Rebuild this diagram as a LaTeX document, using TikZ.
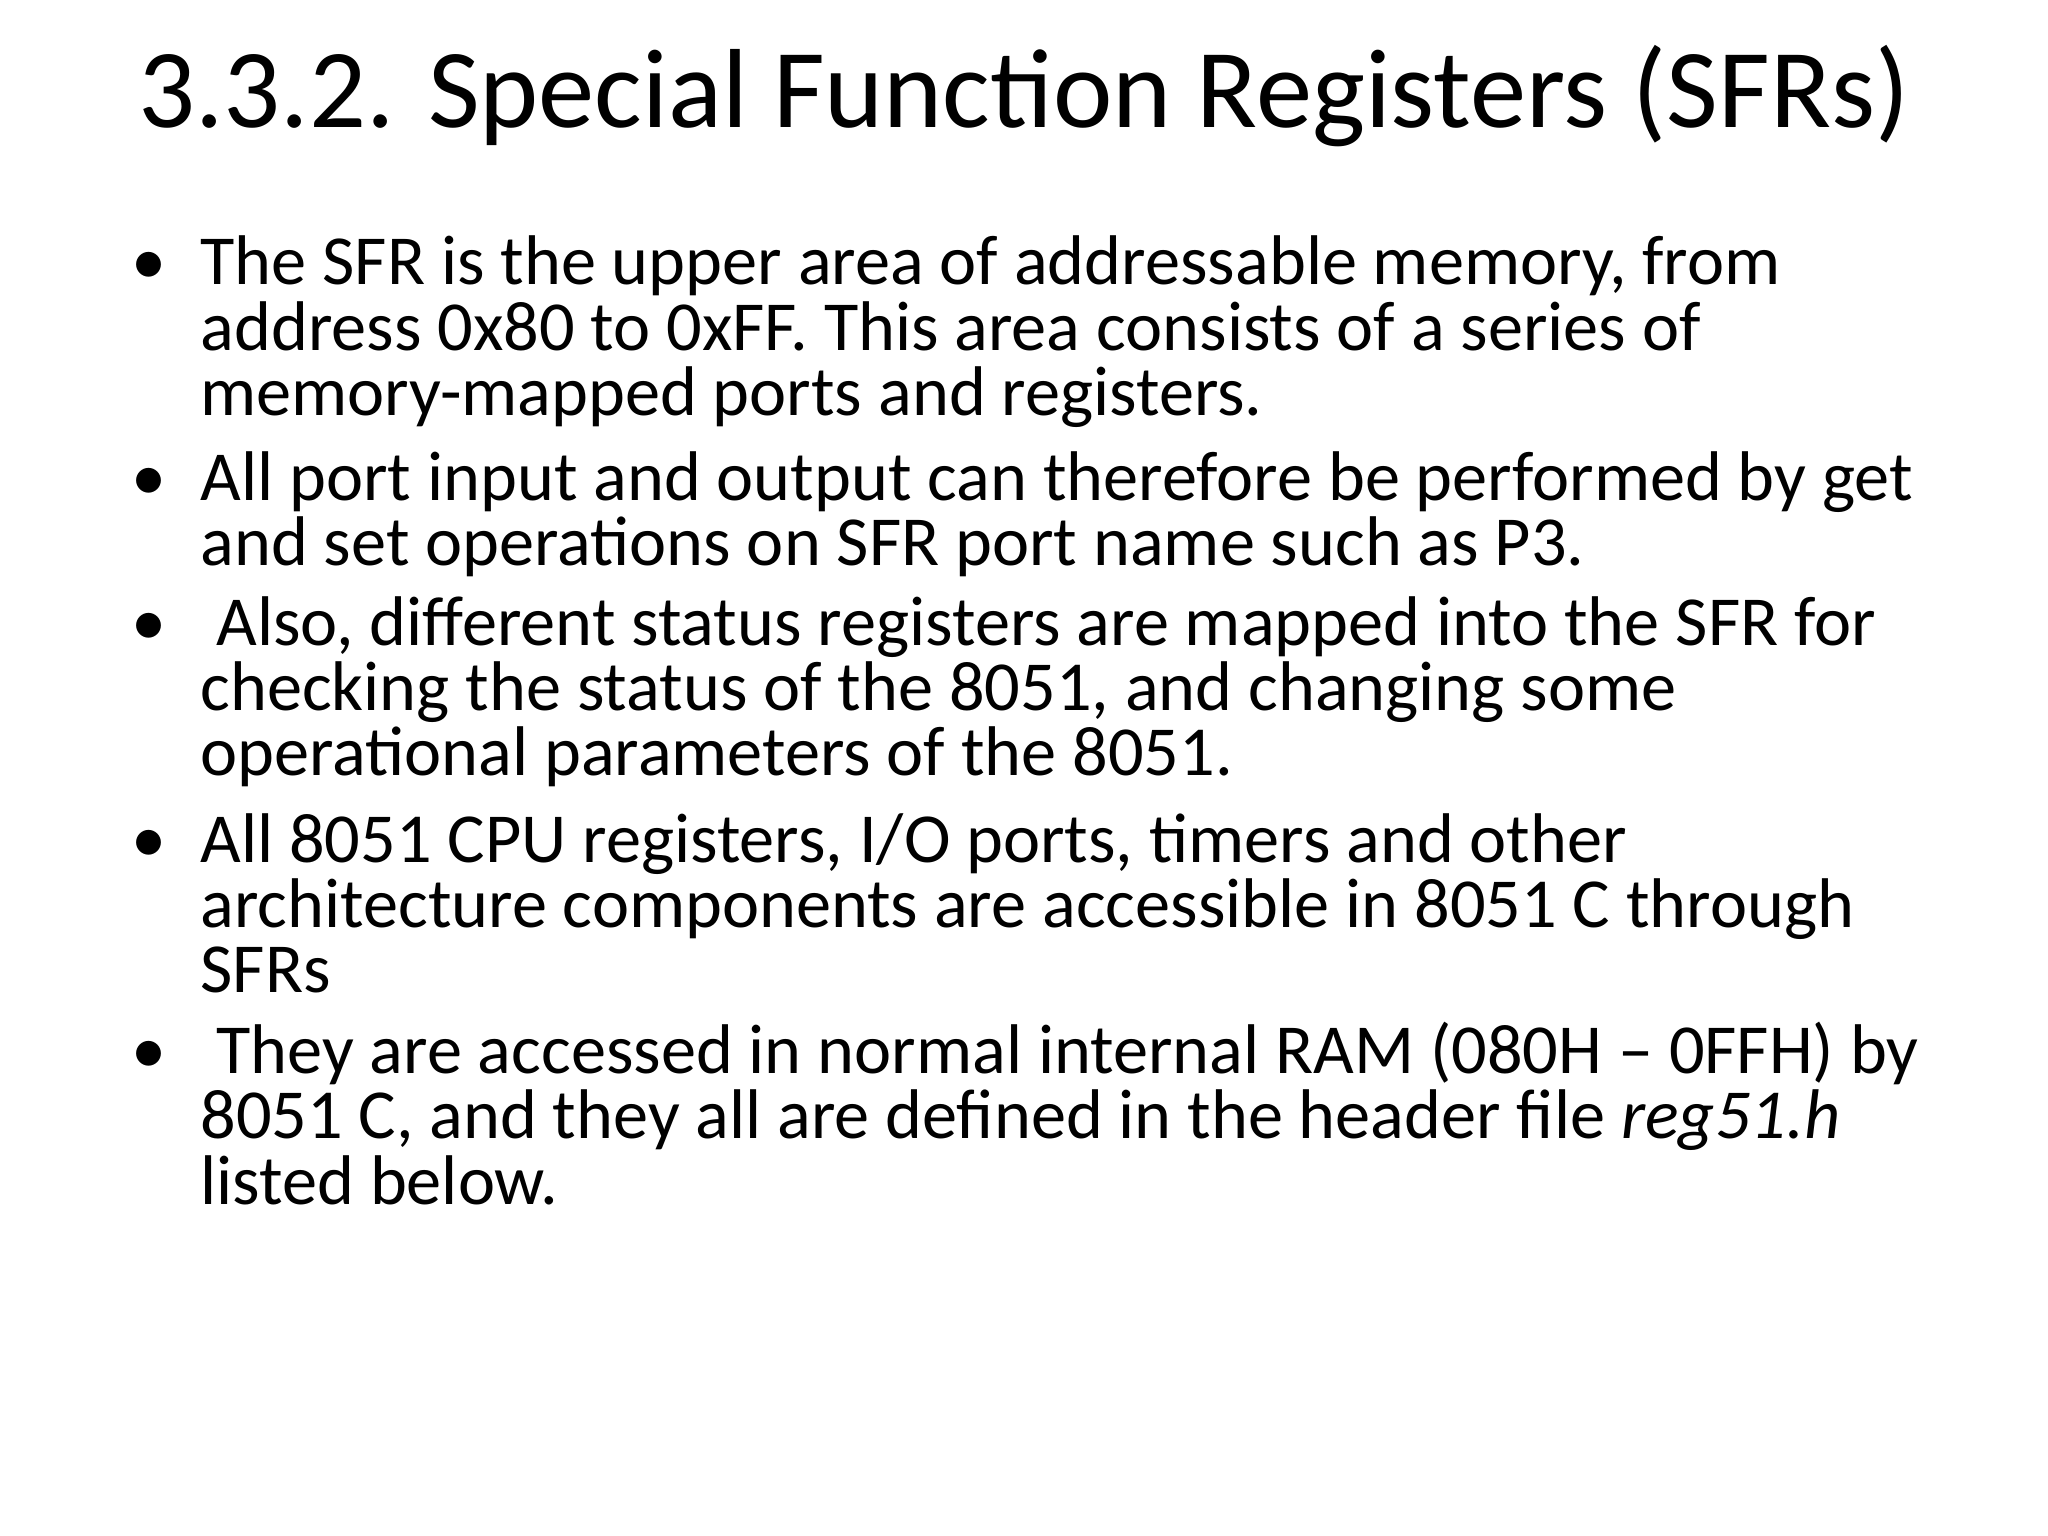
\documentclass[tikz,border=0pt]{standalone}
\usepackage{fontspec}
\setmainfont{Carlito}
\begin{document}
\begin{tikzpicture}[x=0.01306cm,y=-0.01306cm,
  ln/.style={anchor=base west,inner sep=0pt,font=\fontsize{20}{24}\selectfont},
  bl/.style={anchor=base west,inner sep=0pt,font=\fontsize{20}{24}\selectfont}]
\useasboundingbox[fill=white] (0,0) rectangle (1568,1176);
\node[anchor=base,inner sep=0pt,font=\fontsize{32}{38}\selectfont] (title) at (784,98) {3.3.2. Special Function Registers (SFRs)};
\foreach \y in {218,383,494,660,822}{\node[bl] (b\y) at (100,\y) {\textbullet};}
\node[ln] (l1) at (153,218) {The SFR is the upper area of addressable memory, from};
\node[ln] (l2) at (153,268) {address 0x80 to 0xFF. This area consists of a series of};
\node[ln] (l3) at (153,318) {memory-mapped ports and registers.};
\node[ln] (l4) at (153,383) {All port input and output can therefore be performed by get};
\node[ln] (l5) at (153,433) {and set operations on SFR port name such as P3.};
\node[ln] (l6) at (153,494) {\ Also, different status registers are mapped into the SFR for};
\node[ln] (l7) at (153,544) {checking the status of the 8051, and changing some};
\node[ln] (l8) at (153,594) {operational parameters of the 8051.};
\node[ln] (l9) at (153,660) {All 8051 CPU registers, I/O ports, timers and other};
\node[ln] (l10) at (153,710) {architecture components are accessible in 8051 C through};
\node[ln] (l11) at (153,760) {SFRs};
\node[ln] (l12) at (153,822) {\ They are accessed in normal internal RAM (080H – 0FFH) by};
\node[ln] (l13) at (153,872) {8051 C, and they all are defined in the header file \textit{reg51.h}};
\node[ln] (l14) at (153,922) {listed below.};
\end{tikzpicture}
\end{document}
